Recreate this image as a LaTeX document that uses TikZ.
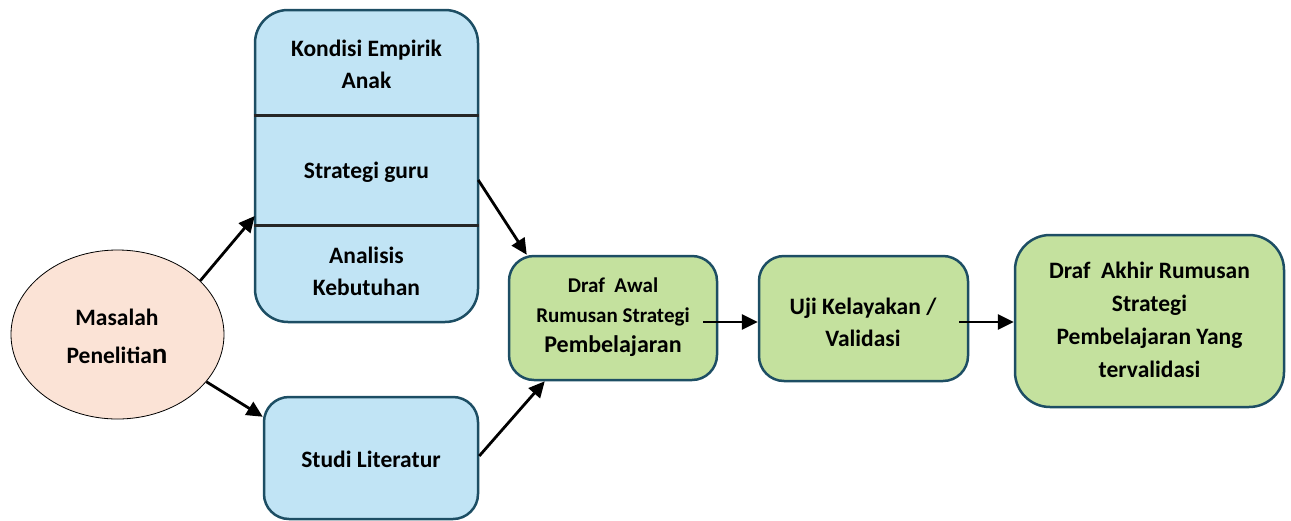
\documentclass[tikz,border=0pt]{standalone}
\usepackage{fontspec}
\setmainfont{Carlito}
\usetikzlibrary{arrows.meta,calc,shapes.geometric}
\definecolor{bluefill}{HTML}{C1E4F5}
\definecolor{greenfill}{HTML}{C4E19E}
\definecolor{peach}{HTML}{FBE3D6}
\definecolor{edgec}{HTML}{1D4E64}
\begin{document}
\begin{tikzpicture}[x=1pt,y=-1pt,
  bluebox/.style={draw=edgec,fill=bluefill,line width=2.5pt,inner sep=0pt},
  greenbox/.style={draw=edgec,fill=greenfill,line width=2.5pt,inner sep=0pt,rounded corners=25pt},
  lbl/.style={font=\bfseries\fontsize{23.5}{32}\selectfont,align=center,inner sep=0pt},
  conn/.style={line width=2.8pt,-{Triangle[length=16pt,width=15pt]}},
  divider/.style={line width=3pt,draw=black!85}]
\useasboundingbox (0,0) rectangle (1291,520);
% nodes
\node[ellipse,draw=black,line width=0.8pt,fill=peach,minimum width=213pt,minimum height=169pt,inner sep=0pt] (mas) at (117.5,334.5) {};
\node[bluebox,rounded corners=33pt,minimum width=223pt,minimum height=312pt] (emp) at (366.5,166) {};
\node[bluebox,rounded corners=25pt,minimum width=214pt,minimum height=122pt] (stu) at (371,458) {};
\node[greenbox,minimum width=208pt,minimum height=124pt] (awal) at (613,318) {};
\node[greenbox,minimum width=209pt,minimum height=125pt] (uji) at (863.5,318.5) {};
\node[greenbox,rounded corners=35pt,minimum width=269pt,minimum height=172pt] (akhir) at (1149.5,321) {};
% dividers
\draw[divider] ($(emp.north west)+(0,107)$) -- ($(emp.north east)+(0,107)$);
\draw[divider] ($(emp.north west)+(0,217)$) -- ($(emp.north east)+(0,217)$);
% texts
\node[lbl,font=\bfseries\fontsize{23.5}{38}\selectfont] (tmas) at (117,336) {Masalah\\Penelitia{\fontsize{29}{38}\selectfont n}};
\node[lbl] (t1) at (366.5,64) {Kondisi Empirik\\Anak};
\node[lbl] (t2) at (366.5,172) {Strategi guru};
\node[lbl] (t3) at (366.5,271) {Analisis\\Kebutuhan};
\node[lbl] (tstu) at (371,459) {Studi Literatur};
\node[lbl,font=\bfseries\fontsize{21}{30}\selectfont] (tawal) at (613,317) {Draf\ \ Awal\\Rumusan Strategi\\{\fontsize{24}{30}\selectfont Pembelajaran}};
\node[lbl] (tuji) at (863,322) {Uji Kelayakan /\\Validasi};
\node[lbl,font=\bfseries\fontsize{23.5}{33}\selectfont] (takhir) at (1149.5,320) {Draf\ \ Akhir Rumusan\\Strategi\\Pembelajaran Yang\\tervalidasi};
% connectors
\draw[conn] (mas.33) -- ($(emp.west)+(1,50)$);
\draw[conn] (mas.-28) -- ($(stu.north west)+(0,21)$);
\draw[conn] ($(emp.east)+(-1,14)$) -- ($(awal.north west)+(19,0)$);
\draw[conn] ($(stu.east)+(0,-2)$) -- ($(awal.south west)+(37,0)$);
\draw[conn] ($(awal.east)+(-15,4)$) -- ($(uji.west)+(0,3.5)$);
\draw[conn] ($(uji.east)+(-10,3.5)$) -- ($(akhir.west)+(0,1)$);
\end{tikzpicture}
\end{document}
